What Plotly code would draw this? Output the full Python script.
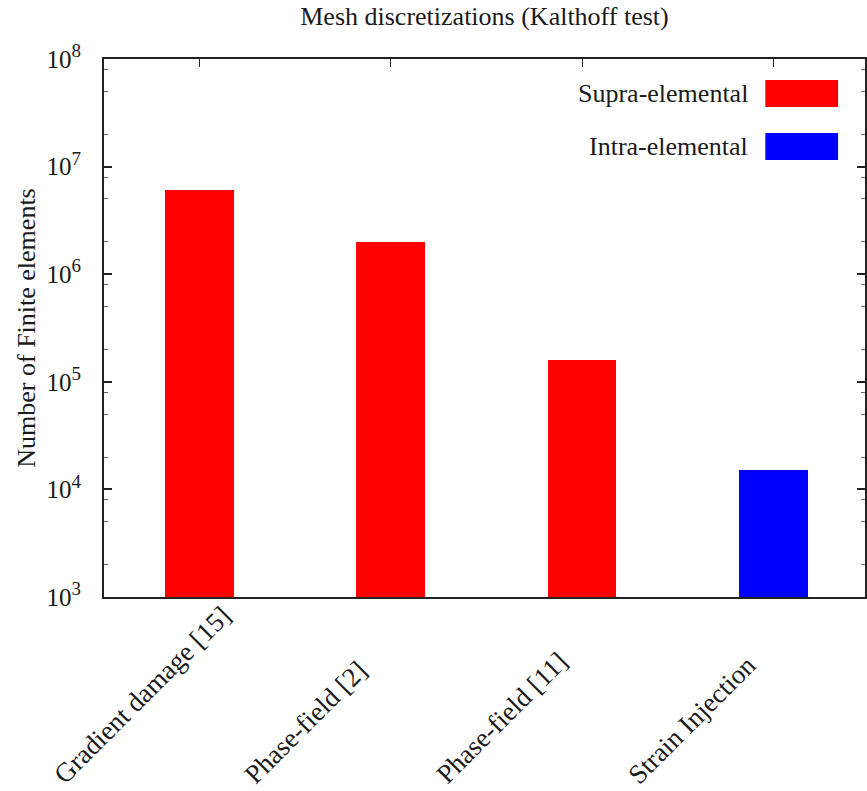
import plotly.graph_objects as go

# Mesh sizes used by each method in the Kalthoff test
methods = ["Gradient damage [15]", "Phase-field [2]", "Phase-field [11]", "Strain Injection"]
n_elements = [6.0e6, 2.0e6, 1.6e5, 1.5e4]
kinds = ["Supra-elemental", "Supra-elemental", "Supra-elemental", "Intra-elemental"]
kind_colors = {"Supra-elemental": "#ff0000", "Intra-elemental": "#0000ff"}

decades = [3, 4, 5, 6, 7, 8]
tick_vals = [10 ** d for d in decades]
tick_text = [f"10<sup><span style='font-size:19px'>{d}</span></sup>" for d in decades]
minor_vals = [m * 10 ** d for d in decades[:-1] for m in (2, 5, 8)]

FONT = "Liberation Serif"
INK = "#1a1a1a"
TEXT_SIZE = 26

fig = go.Figure(
    go.Bar(
        x=methods,
        y=n_elements,
        width=0.36,
        marker=dict(color=[kind_colors[k] for k in kinds], line=dict(width=0)),
        showlegend=False,
    )
)

fig.update_layout(
    width=867,
    height=791,
    margin=dict(l=104, r=0, t=59, b=194),
    paper_bgcolor="white",
    plot_bgcolor="white",
    font=dict(family=FONT, color=INK),
    title=dict(
        text="Mesh discretizations (Kalthoff test)",
        x=0.5, xanchor="center", xref="paper",
        y=0.98, yanchor="middle", yref="container",
        font=dict(size=TEXT_SIZE, family=FONT, color=INK),
    ),
    bargap=0,
)

fig.update_xaxes(
    type="category",
    range=[-0.5, 3.48],
    showline=True, linecolor="#222", linewidth=2,
    mirror="ticks",
    ticks="inside", ticklen=8, tickwidth=1, tickcolor="#222",
    showticklabels=False,
    showgrid=False, zeroline=False,
    layer="below traces",
)

fig.update_yaxes(
    type="log",
    range=[3, 8],
    tickvals=tick_vals, ticktext=tick_text,
    showline=True, linecolor="#222", linewidth=2,
    mirror="ticks",
    ticks="inside", ticklen=8, tickwidth=1.5, tickcolor="#222",
    tickfont=dict(size=25, family=FONT, color=INK),
    ticklabelstandoff=16,
    minor=dict(tickvals=minor_vals, ticks="inside", ticklen=4, tickwidth=1, tickcolor="#666"),
    showgrid=False, zeroline=False,
    title=dict(text="Number of Finite elements", standoff=3,
               font=dict(size=TEXT_SIZE, family=FONT, color=INK)),
)

# Category labels: rotated 45 degrees, all starting from the same baseline
for name in methods:
    fig.add_annotation(text=name, xref="x", yref="paper",
                       x=name, y=-0.3606, xanchor="left", yanchor="bottom",
                       xshift=-153, textangle=-45, showarrow=False, borderpad=0,
                       font=dict(size=27, family=FONT, color=INK))

# Key drawn as wide swatches with the labels to their left
legend_rows = [("Supra-elemental", 0.961, 0.911), ("Intra-elemental", 0.8625, 0.8123)]
for label, y_top, y_bot in legend_rows:
    fig.add_shape(type="rect", xref="paper", yref="paper",
                  x0=0.869, x1=0.9646, y0=y_bot, y1=y_top,
                  fillcolor=kind_colors[label], line=dict(width=0))
    fig.add_annotation(text=label, xref="paper", yref="paper",
                       x=0.849, y=(y_top + y_bot) / 2, xanchor="right", yanchor="middle",
                       showarrow=False, font=dict(size=TEXT_SIZE, family=FONT, color=INK))

fig.write_html("out.html")
